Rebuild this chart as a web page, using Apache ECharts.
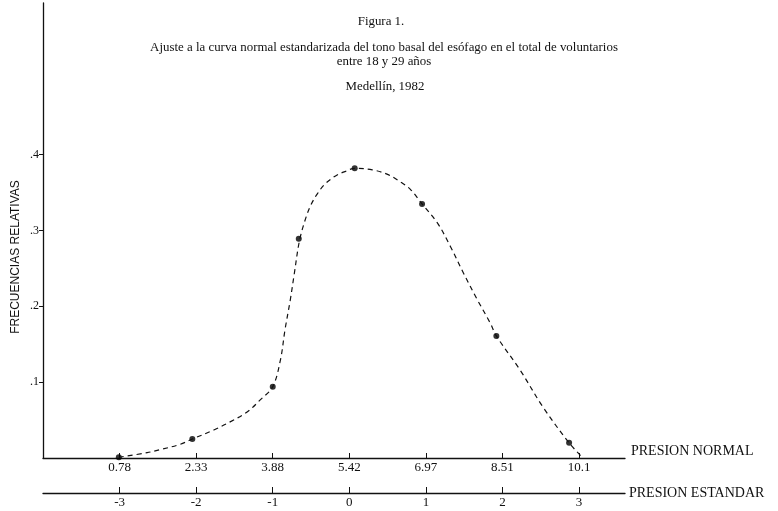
<!DOCTYPE html>
<html>
<head>
<meta charset="utf-8">
<script src="https://cdn.jsdelivr.net/npm/echarts@6.0.0/dist/echarts.min.js"></script>
<style>
html,body{margin:0;padding:0;background:#fff;}
#chart{width:778px;height:511px;}
</style>
</head>
<body>
<div id="chart"></div>
<script>
// Tick values (standard units) and labels
const standardTicks = [-3, -2, -1, 0, 1, 2, 3];
const normalLabels = ['0.78', '2.33', '3.88', '5.42', '6.97', '8.51', '10.1'];
const standardLabels = ['-3', '-2', '-1', '0', '1', '2', '3'];
const yTickValues = [0.1, 0.2, 0.3, 0.4];
const yTickLabels = ['.1', '.2', '.3', '.4'];

// Fitted curve
const curveX = [-3.01, -2.64, -2.47, -2.21, -2.05, -1.77, -1.55, -1.33, -1.16, -1.00, -0.90, -0.84, -0.77, -0.72, -0.65, -0.57, -0.50, -0.42, -0.32, -0.18, -0.05, 0.07, 0.30, 0.50, 0.67, 0.80, 0.95, 1.15, 1.32, 1.49, 1.67, 1.84, 1.92, 2.23, 2.53, 2.87, 3.04];
const curveY = [0.001, 0.007, 0.011, 0.018, 0.025, 0.037, 0.048, 0.061, 0.077, 0.094, 0.129, 0.169, 0.209, 0.242, 0.287, 0.316, 0.334, 0.348, 0.361, 0.372, 0.378, 0.382, 0.380, 0.374, 0.364, 0.354, 0.335, 0.310, 0.279, 0.244, 0.209, 0.178, 0.161, 0.116, 0.067, 0.020, 0.001];

// Observed points
const pointX = [-3.01, -2.05, -1.00, -0.66, 0.07, 0.95, 1.92, 2.87];
const pointY = [0.001, 0.025, 0.094, 0.289, 0.382, 0.335, 0.161, 0.020];

const serif = 'Liberation Serif';
const ink = '#111';

const chart = echarts.init(document.getElementById('chart'), null, {renderer: 'canvas'});

const titleStyle = {fontFamily: serif, fontSize: 12.9, fontWeight: 'normal', color: ink, lineHeight: 14};

chart.setOption({
  animation: false,
  backgroundColor: '#fff',
  title: [
    {text: 'Figura 1.', left: 376, top: 10, textAlign: 'center', textStyle: titleStyle},
    {text: 'Ajuste a la curva normal estandarizada del tono basal del esófago en el total de voluntarios\nentre 18 y 29 años', left: 379, top: 36, textAlign: 'center', textStyle: titleStyle},
    {text: 'Medellín, 1982', left: 380, top: 75, textAlign: 'center', textStyle: titleStyle}
  ],
  grid: {left: 43, right: 153, top: 3, bottom: 53, containLabel: false},
  xAxis: [
    {
      type: 'value', min: -4, max: 3.6, position: 'bottom',
      axisLine: {show: true, onZero: false, lineStyle: {color: ink, width: 1.3}},
      axisTick: {show: true, customValues: standardTicks, inside: true, length: 5, lineStyle: {color: ink, width: 1}},
      axisLabel: {customValues: standardTicks, margin: 3, fontFamily: serif, fontSize: 13, color: ink,
        formatter: function (v) { const i = standardTicks.indexOf(Math.round(v)); return i >= 0 ? normalLabels[i] : ''; }},
      splitLine: {show: false},
      name: 'PRESION NORMAL', nameLocation: 'end', nameGap: 6,
      nameTextStyle: {fontFamily: serif, fontSize: 14, color: ink, verticalAlign: 'bottom', align: 'left'}
    },
    {
      type: 'value', min: -4, max: 3.6, position: 'bottom', offset: 35,
      axisLine: {show: true, onZero: false, lineStyle: {color: ink, width: 1.3}},
      axisTick: {show: true, customValues: standardTicks, inside: true, length: 6, lineStyle: {color: ink, width: 1}},
      axisLabel: {customValues: standardTicks, margin: 3, fontFamily: serif, fontSize: 13, color: ink,
        formatter: function (v) { const i = standardTicks.indexOf(Math.round(v)); return i >= 0 ? standardLabels[i] : ''; }},
      splitLine: {show: false},
      name: 'PRESION ESTANDAR', nameLocation: 'end', nameGap: 4,
      nameTextStyle: {fontFamily: serif, fontSize: 14, color: ink, verticalAlign: 'middle', align: 'left'}
    }
  ],
  yAxis: {
    type: 'value', min: 0, max: 0.6,
    axisLine: {show: true, onZero: false, lineStyle: {color: ink, width: 1.3}},
    axisTick: {show: true, customValues: yTickValues, length: 4, lineStyle: {color: ink}},
    axisLabel: {customValues: yTickValues, margin: 4, fontFamily: serif, fontSize: 12, color: ink,
      formatter: function (v) { const i = yTickValues.findIndex(t => Math.abs(t - v) < 1e-6); return i >= 0 ? yTickLabels[i] : ''; }},
    splitLine: {show: false}
  },
  graphic: [
    {type: 'text', x: 16, y: 257, rotation: Math.PI / 2,
      style: {text: 'FRECUENCIAS RELATIVAS', fontFamily: 'Liberation Sans', fontSize: 12, fill: ink, align: 'center', verticalAlign: 'middle'}}
  ],
  series: [
    {
      type: 'line', xAxisIndex: 0, smooth: 0.35, showSymbol: false, silent: true,
      data: curveX.map((x, i) => [x, curveY[i]]),
      lineStyle: {color: ink, width: 1.2, type: [5, 4]}
    },
    {
      type: 'scatter', xAxisIndex: 0, symbol: 'circle', symbolSize: 6, silent: true,
      data: pointX.map((x, i) => [x, pointY[i]]),
      itemStyle: {color: '#000'}
    }
  ]
});
</script>
</body>
</html>
